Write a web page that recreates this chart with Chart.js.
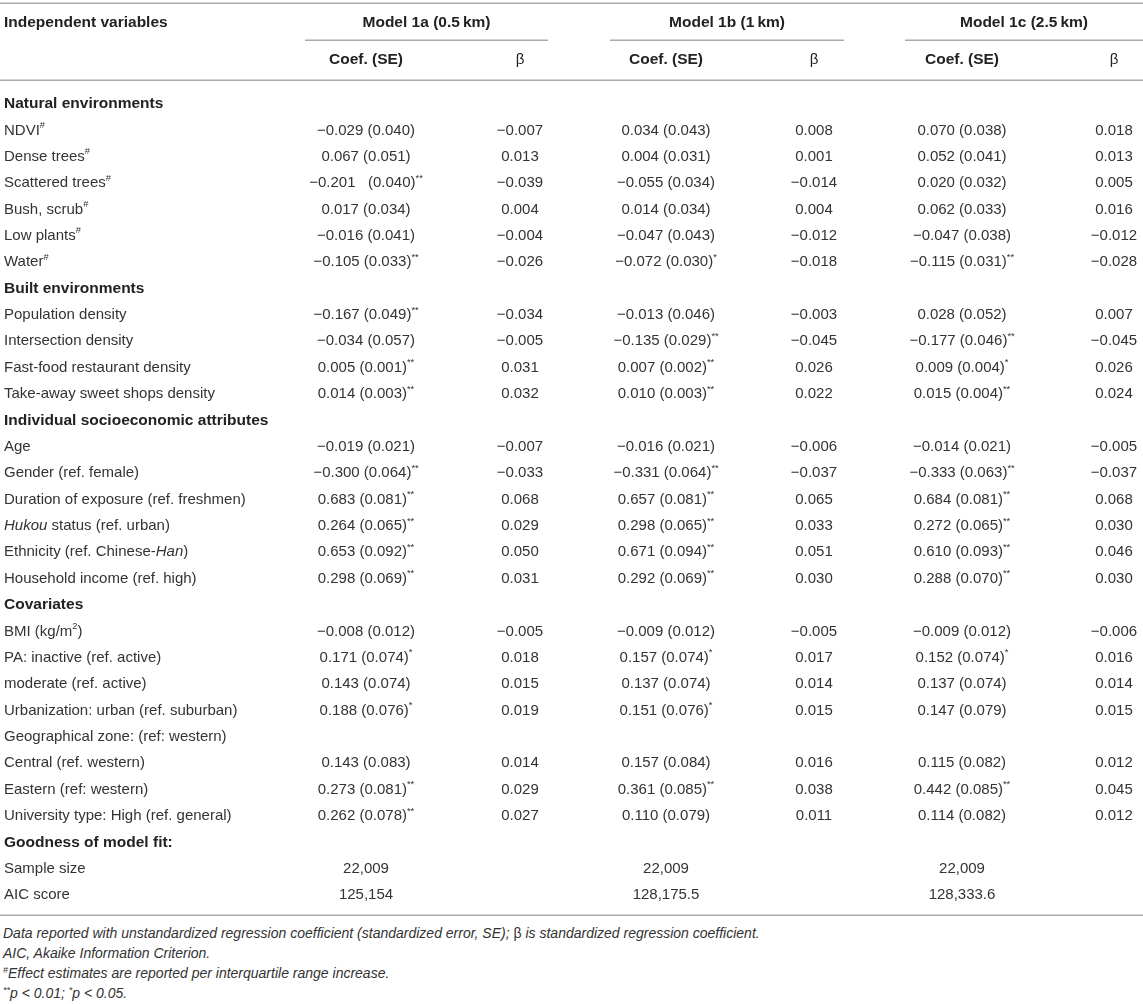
<!DOCTYPE html>
<html lang="en">
<head>
    <meta charset="UTF-8">
    <meta name="viewport" content="width=device-width, initial-scale=1.0">
    <title>Models 1a-1c: regression table</title>
    <script src="https://cdn.jsdelivr.net/npm/chart.js"></script>
    <style>
        body {
            margin: 0;
            background: #fff;
            font-family: "Liberation Sans", Arial, sans-serif;
            color: #333;
        }
        #wrap {
            position: relative;
            width: 1143px;
            height: 1004px;
            overflow: hidden;
        }
        #tableChart {
            display: block;
        }
        .notes {
            position: absolute;
            left: 3px;
            top: 923px;
            font-style: italic;
            font-size: 14px;
            line-height: 20px;
        }
        .notes p {
            margin: 0;
        }
        .notes sup {
            font-size: 9px;
            vertical-align: 5px;
            line-height: 0;
        }
        .up {
            font-style: normal;
        }
    </style>
</head>
<body>
    <div id="wrap">
        <canvas id="tableChart" width="1143" height="920"></canvas>
        <div class="notes">
            <p>Data reported with unstandardized regression coefficient (standardized error, SE); <span class="up">β</span> is standardized regression coefficient.</p>
            <p>AIC, Akaike Information Criterion.</p>
            <p><sup>#</sup>Effect estimates are reported per interquartile range increase.</p>
            <p><sup>**</sup>p &lt; 0.01; <sup>*</sup>p &lt; 0.05.</p>
        </div>
    </div>

    <script>
        // ---- table content ----
        const rowLabels = [
            'Natural environments',
            'NDVI#', 'Dense trees#', 'Scattered trees#', 'Bush, scrub#', 'Low plants#', 'Water#',
            'Built environments',
            'Population density', 'Intersection density', 'Fast-food restaurant density', 'Take-away sweet shops density',
            'Individual socioeconomic attributes',
            'Age', 'Gender (ref. female)', 'Duration of exposure (ref. freshmen)', '_Hukou_ status (ref. urban)',
            'Ethnicity (ref. Chinese-_Han_)', 'Household income (ref. high)',
            'Covariates',
            'BMI (kg/m^{2})', 'PA: inactive (ref. active)', 'moderate (ref. active)', 'Urbanization: urban (ref. suburban)',
            'Geographical zone: (ref: western)', 'Central (ref. western)', 'Eastern (ref: western)',
            'University type: High (ref. general)',
            'Goodness of model fit:',
            'Sample size', 'AIC score'
        ];
        const sectionRows = [0, 7, 12, 19, 28];

        const coef1a = ['',
            '−0.029 (0.040)', '0.067 (0.051)', '−0.201   (0.040)**', '0.017 (0.034)', '−0.016 (0.041)', '−0.105 (0.033)**',
            '',
            '−0.167 (0.049)**', '−0.034 (0.057)', '0.005 (0.001)**', '0.014 (0.003)**',
            '',
            '−0.019 (0.021)', '−0.300 (0.064)**', '0.683 (0.081)**', '0.264 (0.065)**', '0.653 (0.092)**', '0.298 (0.069)**',
            '',
            '−0.008 (0.012)', '0.171 (0.074)*', '0.143 (0.074)', '0.188 (0.076)*', '', '0.143 (0.083)', '0.273 (0.081)**', '0.262 (0.078)**',
            '',
            '22,009', '125,154'];
        const beta1a = ['',
            '−0.007', '0.013', '−0.039', '0.004', '−0.004', '−0.026',
            '',
            '−0.034', '−0.005', '0.031', '0.032',
            '',
            '−0.007', '−0.033', '0.068', '0.029', '0.050', '0.031',
            '',
            '−0.005', '0.018', '0.015', '0.019', '', '0.014', '0.029', '0.027',
            '',
            '', ''];
        const coef1b = ['',
            '0.034 (0.043)', '0.004 (0.031)', '−0.055 (0.034)', '0.014 (0.034)', '−0.047 (0.043)', '−0.072 (0.030)*',
            '',
            '−0.013 (0.046)', '−0.135 (0.029)**', '0.007 (0.002)**', '0.010 (0.003)**',
            '',
            '−0.016 (0.021)', '−0.331 (0.064)**', '0.657 (0.081)**', '0.298 (0.065)**', '0.671 (0.094)**', '0.292 (0.069)**',
            '',
            '−0.009 (0.012)', '0.157 (0.074)*', '0.137 (0.074)', '0.151 (0.076)*', '', '0.157 (0.084)', '0.361 (0.085)**', '0.110 (0.079)',
            '',
            '22,009', '128,175.5'];
        const beta1b = ['',
            '0.008', '0.001', '−0.014', '0.004', '−0.012', '−0.018',
            '',
            '−0.003', '−0.045', '0.026', '0.022',
            '',
            '−0.006', '−0.037', '0.065', '0.033', '0.051', '0.030',
            '',
            '−0.005', '0.017', '0.014', '0.015', '', '0.016', '0.038', '0.011',
            '',
            '', ''];
        const coef1c = ['',
            '0.070 (0.038)', '0.052 (0.041)', '0.020 (0.032)', '0.062 (0.033)', '−0.047 (0.038)', '−0.115 (0.031)**',
            '',
            '0.028 (0.052)', '−0.177 (0.046)**', '0.009 (0.004)*', '0.015 (0.004)**',
            '',
            '−0.014 (0.021)', '−0.333 (0.063)**', '0.684 (0.081)**', '0.272 (0.065)**', '0.610 (0.093)**', '0.288 (0.070)**',
            '',
            '−0.009 (0.012)', '0.152 (0.074)*', '0.137 (0.074)', '0.147 (0.079)', '', '0.115 (0.082)', '0.442 (0.085)**', '0.114 (0.082)',
            '',
            '22,009', '128,333.6'];
        const beta1c = ['',
            '0.018', '0.013', '0.005', '0.016', '−0.012', '−0.028',
            '',
            '0.007', '−0.045', '0.026', '0.024',
            '',
            '−0.005', '−0.037', '0.068', '0.030', '0.046', '0.030',
            '',
            '−0.006', '0.016', '0.014', '0.015', '', '0.012', '0.045', '0.012',
            '',
            '', ''];

        const headLabel = 'Independent variables';
        const groupTitles = ['Model 1a (0.5\u2009km)', 'Model 1b (1\u2009km)', 'Model 1c (2.5\u2009km)'];
        const subHeads = ['Coef. (SE)', 'β'];

        // ---- layout (pixels / row units) ----
        const FAMILY = '"Liberation Sans", Arial, sans-serif';
        const W = 1143, H = 920;
        const ROW0 = 104, ROW_H = 26.37;
        const COL_X = [4, 366, 520, 666, 814, 962, 1114];
        const GROUP_SPANS = [[305, 548], [610, 844], [905, 1143]];
        const HEAD1_ROW = -3.07, HEAD2_ROW = -1.67;
        const RULE_ROWS = { top: -3.83, group: -2.43, head: -0.91, bottom: 30.75 };
        const TEXT = '#333';
        const RULE = '#aaaaaa';

        const columns = [rowLabels, coef1a, beta1a, coef1b, beta1b, coef1c, beta1c];

        // draws text with _italic_, ^{sup} and superscript * / # marks
        function drawRich(ctx, text, x, y, align, bold) {
            const size = bold ? 15.5 : 15;
            const weight = bold ? 'bold ' : '';
            const parts = [];
            const re = /_([^_]+)_|\^\{([^}]*)\}|([*#]+)/g;
            let last = 0, m;
            while ((m = re.exec(text))) {
                if (m.index > last) parts.push({ s: text.slice(last, m.index), k: 'n' });
                if (m[1]) parts.push({ s: m[1], k: 'i' });
                else if (m[2] != null) parts.push({ s: m[2], k: 's' });
                else parts.push({ s: m[3], k: 's' });
                last = re.lastIndex;
            }
            if (last < text.length) parts.push({ s: text.slice(last), k: 'n' });

            const fontFor = k => k === 'i' ? `italic ${weight}${size}px ${FAMILY}`
                : k === 's' ? `${weight}${(size * 0.62).toFixed(1)}px ${FAMILY}`
                : `${weight}${size}px ${FAMILY}`;
            let total = 0;
            parts.forEach(p => {
                ctx.font = fontFor(p.k);
                p.w = ctx.measureText(p.s).width;
                total += p.w;
            });
            let cx = align === 'left' ? x : x - total / 2;
            ctx.textAlign = 'left';
            ctx.textBaseline = 'middle';
            parts.forEach(p => {
                ctx.font = fontFor(p.k);
                ctx.fillText(p.s, cx, p.k === 's' ? y - size * 0.33 : y);
                cx += p.w;
            });
        }

        const tablePlugin = {
            id: 'tablePlugin',
            beforeDatasetsDraw(chart) {
                const { ctx, scales: { x, y } } = chart;
                ctx.save();
                ctx.strokeStyle = RULE;
                ctx.lineWidth = 1.5;
                const hline = (x0, x1, row) => {
                    const py = Math.round(y.getPixelForValue(row)) + 0.25;
                    ctx.beginPath();
                    ctx.moveTo(x.getPixelForValue(x0), py);
                    ctx.lineTo(x.getPixelForValue(x1), py);
                    ctx.stroke();
                };
                hline(0, W, RULE_ROWS.top);
                GROUP_SPANS.forEach(([a, b]) => hline(a, b, RULE_ROWS.group));
                hline(0, W, RULE_ROWS.head);
                hline(0, W, RULE_ROWS.bottom);

                // header rows
                ctx.fillStyle = '#222';
                drawRich(ctx, headLabel, x.getPixelForValue(COL_X[0]), y.getPixelForValue(HEAD1_ROW), 'left', true);
                GROUP_SPANS.forEach(([a, b], g) => {
                    drawRich(ctx, groupTitles[g], x.getPixelForValue((a + b) / 2), y.getPixelForValue(HEAD1_ROW), 'center', true);
                    drawRich(ctx, subHeads[0], x.getPixelForValue(COL_X[1 + g * 2]), y.getPixelForValue(HEAD2_ROW), 'center', true);
                    drawRich(ctx, subHeads[1], x.getPixelForValue(COL_X[2 + g * 2]), y.getPixelForValue(HEAD2_ROW), 'center', false);
                });
                ctx.restore();
            },
            afterDatasetsDraw(chart) {
                const { ctx } = chart;
                ctx.save();
                chart.data.datasets.forEach((ds, d) => {
                    const meta = chart.getDatasetMeta(d);
                    meta.data.forEach((pt, i) => {
                        const txt = ds.data[i].t;
                        if (!txt) return;
                        const bold = d === 0 && sectionRows.includes(i);
                        ctx.fillStyle = bold ? '#222' : TEXT;
                        drawRich(ctx, txt, pt.x, pt.y, d === 0 ? 'left' : 'center', bold);
                    });
                });
                ctx.restore();
            }
        };

        const datasets = columns.map((col, c) => ({
            label: 'col' + c,
            data: col.map((t, i) => ({ x: COL_X[c], y: i, t: t })),
            pointRadius: 0,
            pointHoverRadius: 0,
            showLine: false
        }));

        new Chart(document.getElementById('tableChart').getContext('2d'), {
            type: 'scatter',
            data: { datasets: datasets },
            options: {
                responsive: false,
                animation: false,
                events: [],
                layout: { padding: 0 },
                plugins: {
                    legend: { display: false },
                    tooltip: { enabled: false }
                },
                scales: {
                    x: { type: 'linear', min: 0, max: W, display: false },
                    y: { type: 'linear', min: -ROW0 / ROW_H, max: (H - ROW0) / ROW_H, reverse: true, display: false }
                }
            },
            plugins: [tablePlugin]
        });
    </script>
</body>
</html>
